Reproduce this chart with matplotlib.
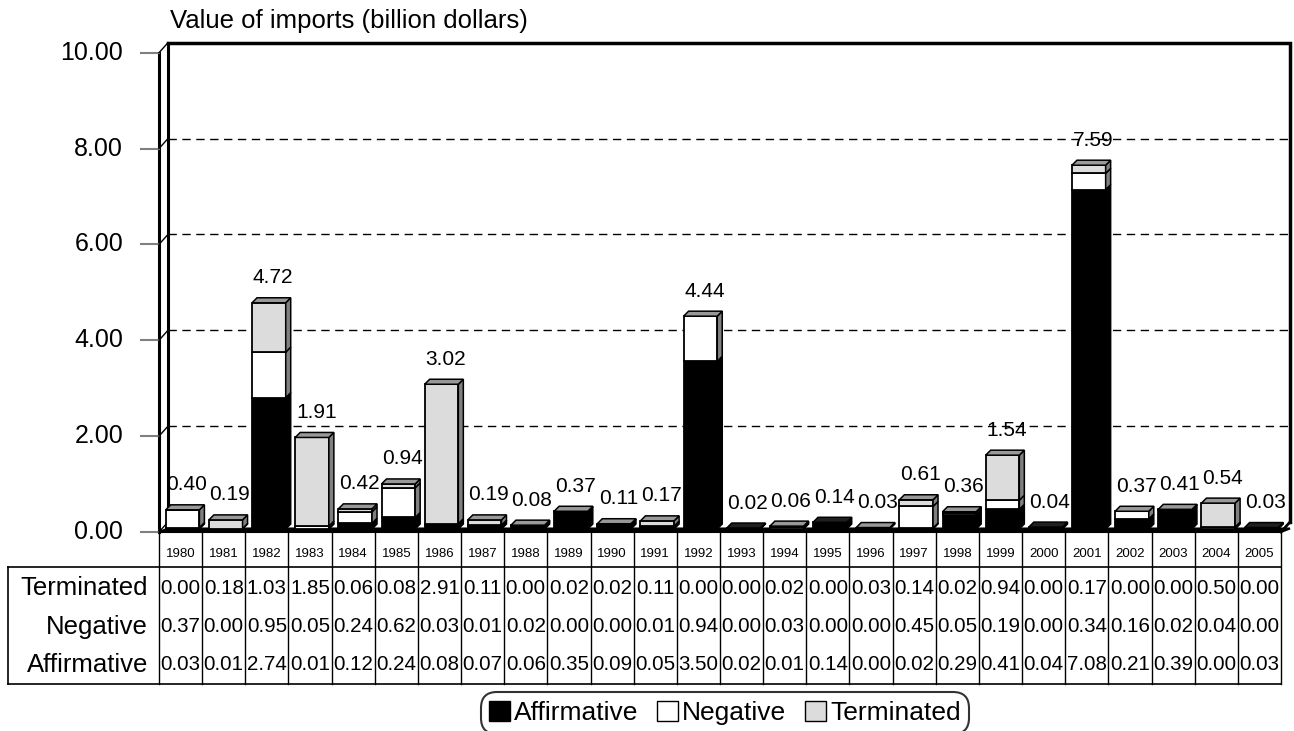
import matplotlib
matplotlib.use('Agg')
import matplotlib.pyplot as plt
import numpy as np
from matplotlib.transforms import ScaledTranslation, blended_transform_factory
from matplotlib.patches import Polygon, Rectangle, Patch
from matplotlib.lines import Line2D

years = [1980, 1981, 1982, 1983, 1984, 1985, 1986, 1987, 1988, 1989, 1990, 1991, 1992,
         1993, 1994, 1995, 1996, 1997, 1998, 1999, 2000, 2001, 2002, 2003, 2004, 2005]
terminated = [0.00, 0.18, 1.03, 1.85, 0.06, 0.08, 2.91, 0.11, 0.00, 0.02, 0.02, 0.11, 0.00,
              0.00, 0.02, 0.00, 0.03, 0.14, 0.02, 0.94, 0.00, 0.17, 0.00, 0.00, 0.50, 0.00]
negative = [0.37, 0.00, 0.95, 0.05, 0.24, 0.62, 0.03, 0.01, 0.02, 0.00, 0.00, 0.01, 0.94,
            0.00, 0.03, 0.00, 0.00, 0.45, 0.05, 0.19, 0.00, 0.34, 0.16, 0.02, 0.04, 0.00]
affirmative = [0.03, 0.01, 2.74, 0.01, 0.12, 0.24, 0.08, 0.07, 0.06, 0.35, 0.09, 0.05, 3.50,
               0.02, 0.01, 0.14, 0.00, 0.02, 0.29, 0.41, 0.04, 7.08, 0.21, 0.39, 0.00, 0.03]
series_names = ['Affirmative', 'Negative', 'Terminated']
yticks = [0, 2, 4, 6, 8, 10]
title = 'Value of imports (billion dollars)'

plt.rcParams['font.family'] = ['Liberation Sans', 'DejaVu Sans']

W, H = 1294, 731
fig = plt.figure(figsize=(W / 100, H / 100), dpi=100)
fig.patch.set_facecolor('white')


def fx(px):
    return px / W


def fy(py):
    return 1 - py / H


AX_L, AX_R, AX_B, AX_T = 159, 1281, 532, 52.7
ax = fig.add_axes([fx(AX_L), fy(AX_B), (AX_R - AX_L) / W, (AX_B - AX_T) / H])
n = len(years)
x = np.arange(n)
ax.set_xlim(-0.5, n - 0.5)
ax.set_ylim(0, 10)
ax.axis('off')

# pixel -> data conversion
XPX = n / (AX_R - AX_L)
YPX = 10 / (AX_B - AX_T)


def shift(dxp, dyp):
    return ax.transData + ScaledTranslation(dxp / 100, dyp / 100, fig.dpi_scale_trans)


WDX, WDY = 9, 10
wall = shift(WDX, WDY)

# back wall grid lines
for t in yticks[1:-1]:
    ax.plot([-0.5, n - 0.5], [t, t], color='black', lw=1.0, ls=(0, (6, 4)),
            transform=wall, clip_on=False, zorder=1)
# back wall frame (top, right)
ax.plot([-0.5, n - 0.5, n - 0.5], [10, 10, 0], color='black', lw=2.5,
        transform=wall, clip_on=False, zorder=1, solid_joinstyle='miter')
ax.plot([-0.5, -0.5], [0, 10], color='black', lw=2.2, transform=wall, clip_on=False, zorder=1)
# left wall front line
ax.plot([-0.5, -0.5], [0, 10], color='black', lw=2.2, clip_on=False, zorder=1)
# right wall bottom slant
ax.plot([n - 0.5, n - 0.5 + WDX * XPX], [0, WDY * YPX], color='black', lw=2.0,
        clip_on=False, zorder=1)
# tick marks and slants
for t in yticks:
    ax.plot([-0.5 - 18 * XPX, -0.5], [t, t], color='#808080', lw=1.5, clip_on=False)
    ax.plot([-0.5, -0.5 + WDX * XPX], [t, t + WDY * YPX], color='black', lw=1.0, clip_on=False)
    ax.text(-0.5 - 36 * XPX, t, f'{t:.2f}', ha='right', va='center', fontsize=18)

# floor
FDX, FDY = 9, 10
floor = Polygon([(-0.5, 0), (n - 0.5, 0), (n - 0.5 + FDX * XPX, FDY * YPX * 0.35),
                 (-0.5 + FDX * XPX, FDY * YPX * 0.35)], closed=True, fc='black', ec='black',
                lw=1.5, clip_on=False, zorder=2)
ax.add_patch(floor)

# bars
BOX, BOY = 2, 3
bar_tr = shift(BOX, BOY)
width = 0.78
face = {'Affirmative': 'black', 'Negative': 'white', 'Terminated': '#dcdcdc'}
side = {'Affirmative': 'black', 'Negative': '#808080', 'Terminated': '#808080'}
topc = {'Affirmative': '#202020', 'Negative': '#999999', 'Terminated': '#999999'}
data = {'Affirmative': affirmative, 'Negative': negative, 'Terminated': terminated}
DX, DY = 5 * XPX, 5 * YPX
bottoms = np.zeros(n)
top_series = [None] * n
for name in series_names:
    vals = np.array(data[name])
    ax.bar(x, vals, width=width, bottom=bottoms, color=face[name], edgecolor='black',
           linewidth=1.3, transform=bar_tr, zorder=3, clip_on=False)
    for i in range(n):
        if vals[i] <= 0:
            continue
        x1 = x[i] + width / 2
        b, t = bottoms[i], bottoms[i] + vals[i]
        ax.add_patch(Polygon([(x1, b), (x1 + DX, b + DY), (x1 + DX, t + DY), (x1, t)],
                             closed=True, fc=side[name], ec='black', lw=1.1,
                             transform=bar_tr, zorder=3, clip_on=False))
        top_series[i] = name
    bottoms = bottoms + vals

totals = bottoms
for i in range(n):
    name = top_series[i] or 'Affirmative'
    x0 = x[i] - width / 2
    t = totals[i]
    ax.add_patch(Polygon([(x0, t), (x0 + width, t), (x0 + width + DX, t + DY), (x0 + DX, t + DY)],
                         closed=True, fc=topc[name], ec='black', lw=1.1,
                         transform=bar_tr, zorder=4, clip_on=False))
    ax.annotate(f'{t:.2f}', xy=(x[i], t), xycoords=bar_tr, xytext=(3, 18),
                textcoords='offset points', ha='center', va='center', fontsize=15,
                zorder=5, annotation_clip=False)

# title
fig.text(fx(170), fy(21), title, ha='left', va='center', fontsize=18.5)

# data table
bt = blended_transform_factory(ax.transData, fig.transFigure)
TOP_Y, BOT_Y = 567, 684
row_centers = [588, 627, 665]
for k in range(n + 1):
    ax.add_line(Line2D([k - 0.5, k - 0.5], [fy(AX_B), fy(BOT_Y)], color='black', lw=1.0,
                       transform=bt, clip_on=False))
# outer border
fig.add_artist(Line2D([fx(8), fx(AX_R)], [fy(TOP_Y), fy(TOP_Y)], color='black', lw=1.2))
fig.add_artist(Line2D([fx(8), fx(AX_R)], [fy(BOT_Y), fy(BOT_Y)], color='black', lw=1.2))
fig.add_artist(Line2D([fx(8), fx(8)], [fy(TOP_Y), fy(BOT_Y)], color='black', lw=1.2))
for i in range(n):
    ax.text(x[i], fy(554), str(years[i]), transform=bt, ha='center', va='center', fontsize=9.5)
rows = ['Terminated', 'Negative', 'Affirmative']
for r, name in enumerate(rows):
    fig.text(fx(148), fy(row_centers[r]), name, ha='right', va='center', fontsize=18.5)
    vals = data[name]
    for i in range(n):
        ax.text(x[i], fy(row_centers[r]), f'{vals[i]:.2f}', transform=bt, ha='center',
                va='center', fontsize=14.8)

# legend
handles = [Patch(fc=face[s], ec='black', lw=1.0) for s in series_names]
leg = fig.legend(handles, series_names, loc='center', bbox_to_anchor=(fx(725), fy(713)),
                 ncol=3, fontsize=19, frameon=True, fancybox=True, handlelength=0.8,
                 handleheight=0.8, handletextpad=0.15, columnspacing=0.7, borderpad=0.12,
                 borderaxespad=0)
leg.get_frame().set_edgecolor('black')
leg.get_frame().set_linewidth(1.5)
leg.get_frame().set_boxstyle('round', pad=0.2, rounding_size=0.6)

fig.savefig('out.png', dpi=100)
